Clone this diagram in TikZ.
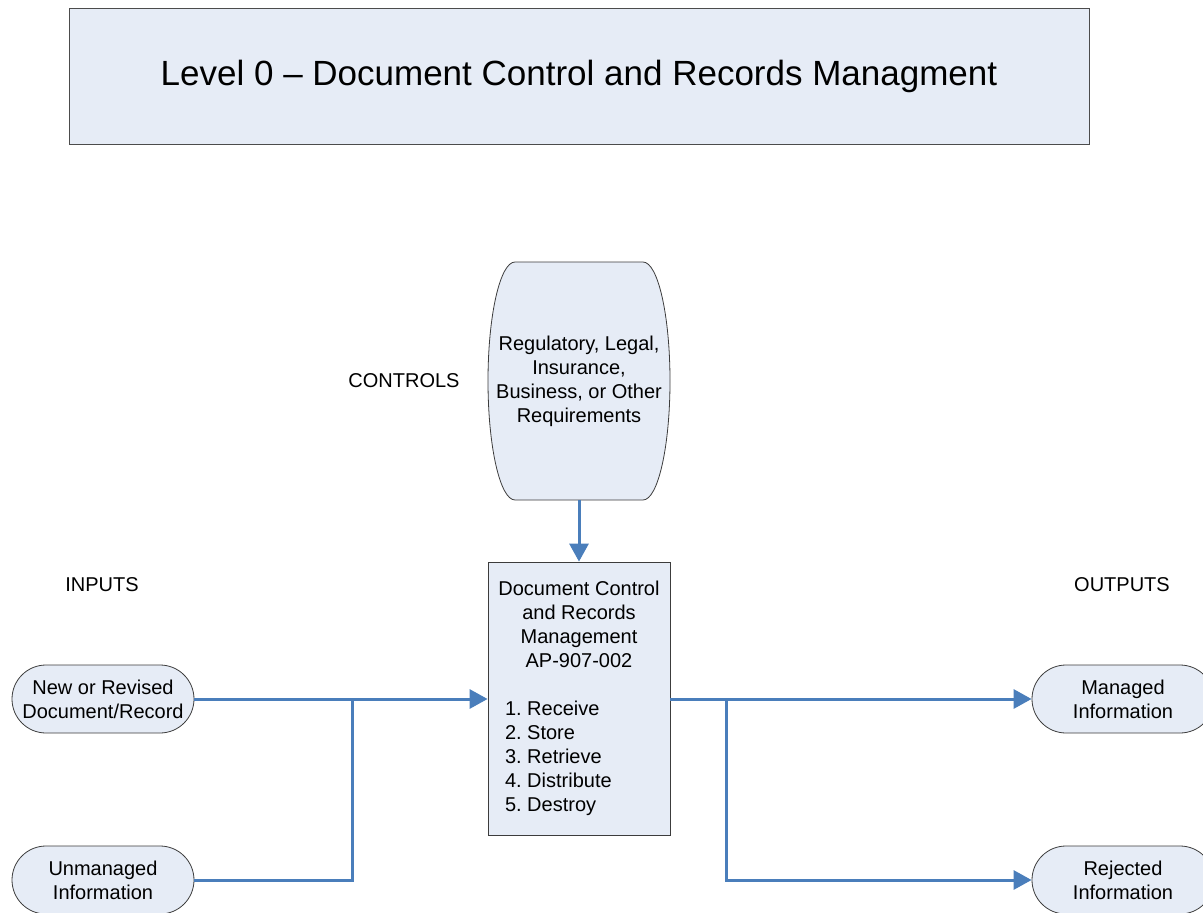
\documentclass[tikz,border=0pt]{standalone}
\usepackage{fontspec}
\setmainfont{Liberation Sans}
\usetikzlibrary{shapes.misc,arrows.meta}
\definecolor{boxfill}{RGB}{230,236,246}
\definecolor{flowblue}{RGB}{74,126,187}
\definecolor{edgegray}{RGB}{60,60,60}
\tikzset{
  txt/.style={font=\fontsize{20}{24}\selectfont, inner sep=0pt},
  stadium/.style={txt, rounded rectangle, draw=edgegray, line width=0.8pt, fill=boxfill,
    minimum width=182pt, minimum height=68pt, align=center},
  procbox/.style={txt, rectangle, draw=edgegray, line width=0.8pt, fill=boxfill,
    minimum width=182pt, minimum height=273pt},
  flow/.style={draw=flowblue, line width=3pt},
  arr/.style={flow, -{Triangle[length=18pt,width=19pt]}},
  label/.style={txt}
}
\begin{document}
\frenchspacing
\begin{tikzpicture}[x=1pt,y=-1pt]
\useasboundingbox (0,0) rectangle (1203,913);
% title
\node[rectangle, draw=gray!60!black, line width=0.8pt, fill=boxfill, minimum width=1020pt,
  minimum height=136pt, inner sep=0pt, font=\fontsize{35}{40}\selectfont] (title) at (579,76)
  {Level 0 -- Document Control and Records Managment};
% controls shape
\draw[draw=edgegray, line width=0.8pt, fill=boxfill]
  (515,262) -- (643,262) arc[start angle=90, end angle=-90, x radius=27pt, y radius=119pt]
  -- (515,500) arc[start angle=270, end angle=90, x radius=27pt, y radius=119pt] -- cycle;
\node[txt, minimum width=182pt, minimum height=238pt, align=center] (ctrl) at (579,381)
  {Regulatory, Legal,\\Insurance,\\Business, or Other\\Requirements};
% labels
\node[label] (controls) at (404,381) {CONTROLS};
\node[label] (inputs) at (102,585) {INPUTS};
\node[label] (outputs) at (1122,585) {OUTPUTS};
% main process
\node[procbox] (main) at (579,698.5) {\begin{minipage}{176pt}\fontsize{20}{24}\selectfont\frenchspacing\centering
Document Control\\and Records\\Management\\AP-907-002\par\vspace{24pt}\raggedright
\leftskip=14pt 1. Receive\\2. Store\\3. Retrieve\\4. Distribute\\5. Destroy\end{minipage}};
% inputs / outputs
\node[stadium] (new) at (103,699) {New or Revised\\Document/Record};
\node[stadium] (unm) at (103,880) {Unmanaged\\Information};
\node[stadium] (man) at (1123,699) {Managed\\Information};
\node[stadium] (rej) at (1123,880) {Rejected\\Information};
% junctions
\coordinate (jin) at (352,699);
\coordinate (jout) at (726,699);
% connectors
\draw[arr] (ctrl.south) -- (main.north);
\draw[arr] (new.east) -- (new.east -| main.west);
\draw[flow] (unm.east) -| (jin);
\draw[arr] (main.east |- man.west) -- (man.west);
\draw[arr] (jout) |- (rej.west);
\end{tikzpicture}
\end{document}
